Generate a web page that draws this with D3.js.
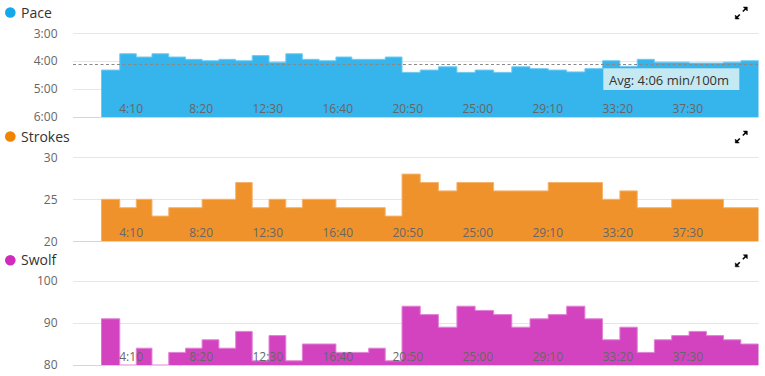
<!DOCTYPE html>
<html>
<head>
<meta charset="utf-8">
<script src="https://cdn.jsdelivr.net/npm/d3@7"></script>
<style>
  body { margin: 0; background: #fff; }
  svg { font-family: "Open Sans", sans-serif; display: block; }
</style>
</head>
<body>
<div id="chart"></div>
<script>
// Lengths of the swim (25m each)
const firstStart = 101; // seconds
const durations = [66, 59, 56, 60, 60, 59, 60, 60, 59, 60, 60, 59, 60, 60, 57, 60, 59, 60, 65, 65,
                   66, 65, 66, 65, 65, 65, 66, 65, 63, 62, 62, 61, 62, 62, 62, 61, 62, 63];
// pace in seconds per 100m
const pace = [259, 224, 231, 224, 231, 236, 239, 236, 239, 228, 242, 224, 236, 239, 231, 236, 236, 231, 264, 259,
              252, 264, 259, 264, 252, 256, 259, 263, 256, 239, 251, 236, 242, 242, 244, 244, 242, 239];
const strokes = [25, 24, 25, 23, 24, 24, 25, 25, 27, 24, 25, 24, 25, 25, 24, 24, 24, 23, 28, 27,
                 26, 27, 27, 26, 26, 26, 27, 27, 27, 25, 26, 24, 24, 25, 25, 25, 24, 24];
const swolf = [91, 80, 84, 79, 83, 84, 86, 84, 88, 81, 87, 81, 85, 85, 83, 83, 84, 81, 94, 92,
               89, 94, 93, 92, 89, 91, 92, 94, 91, 86, 89, 83, 86, 87, 88, 87, 86, 85];
const avgPace = 246;

const timeTicks = [250, 500, 750, 1000, 1250, 1500, 1750, 2000, 2250];
const paceTicks = [180, 240, 300, 360];
const strokeTicks = [20, 25, 30];
const swolfTicks = [80, 90, 100];

const width = 765;
const height = 376;

const svg = d3.select("#chart")
    .append("svg")
    .attr("width", width)
    .attr("height", height);

// start time of every length
const starts = [];
let t = firstStart;
durations.forEach(d => { starts.push(t); t += d; });
const endTime = t;

const x = d3.scaleLinear()
    .domain([0, 2448])
    .range([73, 758.5]);

function mmss(s) {
    const m = Math.floor(s / 60);
    const r = Math.round(s % 60);
    return m + ":" + String(r).padStart(2, "0");
}

function drawPanel(p) {
    const g = svg.append("g");
    const y = p.y.clamp(true);
    const base = p.base;

    // legend
    g.append("circle")
        .attr("cx", 10.3)
        .attr("cy", p.legendY)
        .attr("r", 5.3)
        .attr("fill", p.dot);
    g.append("text")
        .attr("x", 21)
        .attr("y", p.legendY + 5)
        .style("font-size", "14px")
        .style("fill", "#333")
        .text(p.name);

    // grid lines
    g.selectAll(".grid")
        .data(p.ticks.filter(d => d !== base))
        .enter()
        .append("line")
        .attr("x1", 73)
        .attr("x2", 758.5)
        .attr("y1", d => Math.round(y(d)) + 0.5)
        .attr("y2", d => Math.round(y(d)) + 0.5)
        .attr("stroke", "#e6e6e6");

    // step area for the lengths
    const pts = p.values.map((v, i) => [starts[i], v]);
    pts.push([endTime, p.values[p.values.length - 1]]);

    const area = d3.area()
        .curve(d3.curveStepAfter)
        .x(d => x(d[0]))
        .y0(y(base))
        .y1(d => y(d[1]));

    g.append("path")
        .datum(pts)
        .attr("d", area)
        .attr("fill", p.color);

    const line = d3.line()
        .curve(d3.curveStepAfter)
        .x(d => x(d[0]))
        .y(d => y(d[1]));

    g.append("path")
        .datum(pts)
        .attr("d", line)
        .attr("fill", "none")
        .attr("stroke", p.edge)
        .attr("stroke-width", 1);

    // bottom axis line
    g.append("line")
        .attr("x1", 73)
        .attr("x2", 758.5)
        .attr("y1", Math.round(y(base)) + 0.5)
        .attr("y2", Math.round(y(base)) + 0.5)
        .attr("stroke", "#ccd6eb");

    // y labels
    g.selectAll(".ylab")
        .data(p.ticks)
        .enter()
        .append("text")
        .attr("x", 57.5)
        .attr("y", d => y(d))
        .attr("dy", "0.35em")
        .attr("text-anchor", "end")
        .style("font-size", "12px")
        .style("fill", "#666")
        .text(p.fmt);

    // x labels, drawn inside the plot
    g.selectAll(".xlab")
        .data(timeTicks)
        .enter()
        .append("text")
        .attr("x", d => x(d))
        .attr("y", y(base) - 4)
        .attr("text-anchor", "end")
        .style("font-size", "12px")
        .style("fill", "#666")
        .text(mmss);

    // expand icon
    const ic = g.append("g")
        .attr("transform", `translate(741.3, ${p.legendY + 0.5})`)
        .attr("fill", "#000")
        .attr("stroke", "#000");
    ic.append("path")
        .attr("d", "M1.5,-1.5 L4.5,-4.5")
        .attr("stroke-width", 1.6);
    ic.append("path")
        .attr("d", "M2,-6 L6,-6 L6,-2 Z")
        .attr("stroke-width", 0.5);
    ic.append("path")
        .attr("d", "M-1.5,1.5 L-4.5,4.5")
        .attr("stroke-width", 1.6);
    ic.append("path")
        .attr("d", "M-2,6 L-6,6 L-6,2 Z")
        .attr("stroke-width", 0.5);

    return { g, y };
}

// Pace panel (inverted: faster is higher)
const pacePanel = drawPanel({
    name: "Pace",
    color: "#36b4ec",
    edge: "#72cbf3",
    dot: "#17a8ec",
    legendY: 12.5,
    values: pace,
    y: d3.scaleLinear().domain([180, 360]).range([33.3, 117]),
    base: 360,
    ticks: paceTicks,
    fmt: mmss
});

// average pace line
pacePanel.g.append("line")
    .attr("x1", 73)
    .attr("x2", 758.5)
    .attr("y1", pacePanel.y(avgPace) + 0.5)
    .attr("y2", pacePanel.y(avgPace) + 0.5)
    .attr("stroke", "#888")
    .attr("stroke-dasharray", "3,2.5");

// average label box
pacePanel.g.append("rect")
    .attr("x", 603.3)
    .attr("y", 68.3)
    .attr("width", 136)
    .attr("height", 21.7)
    .attr("fill", "#c5e9f2");
pacePanel.g.append("text")
    .attr("x", 609)
    .attr("y", 84.5)
    .style("font-size", "13px")
    .style("fill", "#333")
    .text("Avg: " + mmss(avgPace) + " min/100m");

drawPanel({
    name: "Strokes",
    color: "#f0922b",
    edge: "#f5b26c",
    dot: "#f08300",
    legendY: 136.5,
    values: strokes,
    y: d3.scaleLinear().domain([20, 30]).range([241.3, 157.3]),
    base: 20,
    ticks: strokeTicks,
    fmt: d => d
});

drawPanel({
    name: "Swolf",
    color: "#d343c0",
    edge: "#e282d6",
    dot: "#d02cbc",
    legendY: 260.3,
    values: swolf,
    y: d3.scaleLinear().domain([80, 100]).range([365, 281]),
    base: 80,
    ticks: swolfTicks,
    fmt: d => d
});
</script>
</body>
</html>
